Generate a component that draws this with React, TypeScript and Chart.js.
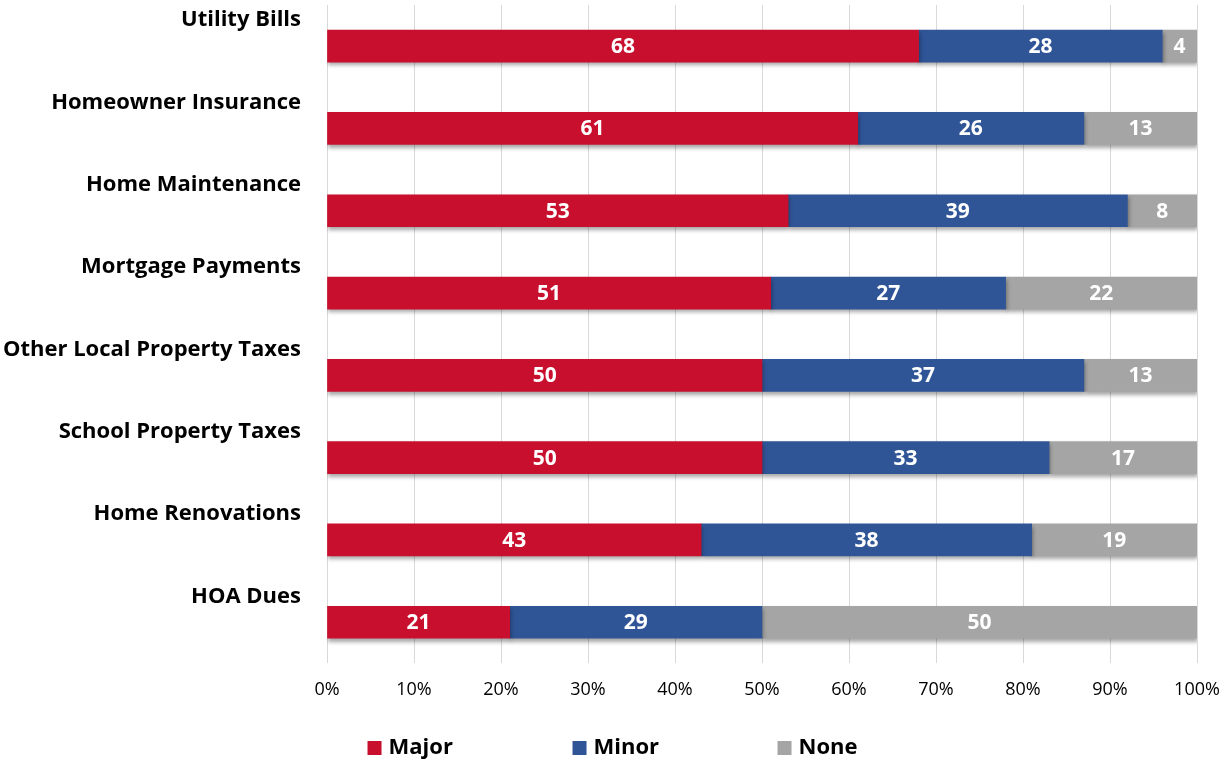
import React, { useEffect, useRef } from "react";
import { Chart, registerables } from "chart.js";

Chart.register(...registerables);

const categories = [
  "Utility Bills",
  "Homeowner Insurance",
  "Home Maintenance",
  "Mortgage Payments",
  "Other Local Property Taxes",
  "School Property Taxes",
  "Home Renovations",
  "HOA Dues",
];
const majorValues = [68, 61, 53, 51, 50, 50, 43, 21];
const minorValues = [28, 26, 39, 27, 37, 33, 38, 29];
const noneValues = [4, 13, 8, 22, 13, 17, 19, 50];
const seriesNames = ["Major", "Minor", "None"];
const seriesColors = ["#C8102E", "#2F5597", "#A5A5A5"];
const xTicks = [0, 10, 20, 30, 40, 50, 60, 70, 80, 90, 100];

const FONT = "'Open Sans', sans-serif";

const shadowPlugin = {
  id: "barShadow",
  beforeDatasetDraw(chart: any) {
    const ctx = chart.ctx;
    ctx.save();
    ctx.shadowColor = "rgba(0,0,0,0.35)";
    ctx.shadowBlur = 4;
    ctx.shadowOffsetX = 1;
    ctx.shadowOffsetY = 3;
  },
  afterDatasetDraw(chart: any) {
    chart.ctx.restore();
  },
};

const valueLabelPlugin = {
  id: "valueLabels",
  afterDatasetsDraw(chart: any) {
    const ctx = chart.ctx;
    ctx.save();
    ctx.fillStyle = "#ffffff";
    ctx.font = `bold 21px ${FONT}`;
    ctx.textAlign = "center";
    ctx.textBaseline = "middle";
    chart.data.datasets.forEach((ds: any, di: number) => {
      const meta = chart.getDatasetMeta(di);
      meta.data.forEach((bar: any, i: number) => {
        const v = ds.data[i];
        const cx = (bar.x + bar.base) / 2;
        ctx.fillText(String(v), cx, bar.y + 1);
      });
    });
    ctx.restore();
  },
};

const legendPlugin = {
  id: "customLegend",
  afterDraw(chart: any) {
    const ctx = chart.ctx;
    ctx.save();
    ctx.font = `bold 22px ${FONT}`;
    ctx.textBaseline = "middle";
    ctx.textAlign = "left";
    const step = 205;
    const box = 14;
    const gap = 7;
    const lastW = box + gap + ctx.measureText(seriesNames[seriesNames.length - 1]).width;
    const total = step * (seriesNames.length - 1) + lastW;
    let x = chart.width / 2 - total / 2;
    const y = 748;
    seriesNames.forEach((name, i) => {
      ctx.fillStyle = seriesColors[i];
      ctx.fillRect(x, y - box / 2, box, box);
      ctx.fillStyle = "#000";
      ctx.fillText(name, x + box + gap, y);
      x += step;
    });
    ctx.restore();
  },
};

export default function App() {
  const ref = useRef<HTMLCanvasElement | null>(null);
  useEffect(() => {
    document.body.style.margin = "0";
    const chart = new Chart(ref.current as HTMLCanvasElement, {
      type: "bar",
      data: {
        labels: categories,
        datasets: seriesNames.map((name, i) => ({
          label: name,
          data: [majorValues, minorValues, noneValues][i],
          backgroundColor: seriesColors[i],
        })),
      },
      options: {
        indexAxis: "y",
        animation: false,
        responsive: false,
        maintainAspectRatio: false,
        datasets: { bar: { barThickness: 32 } },
        layout: { padding: { top: 5, right: 28, bottom: 44, left: 0 } },
        scales: {
          x: {
            stacked: true,
            min: 0,
            max: 100,
            afterBuildTicks(scale: any) {
              scale.ticks = xTicks.map((v) => ({ value: v }));
            },
            afterFit(scale: any) {
              scale.paddingLeft = 0;
              scale.paddingRight = 0;
            },
            ticks: {
              callback: (v: any) => v + "%",
              color: "#000",
              font: { family: FONT, size: 18 },
              padding: 16,
              maxRotation: 0,
            },
            grid: { color: "#D9D9D9", lineWidth: 1, drawTicks: false },
            border: { display: false },
          },
          y: {
            stacked: true,
            afterFit(scale: any) {
              scale.width = 327;
              scale.paddingTop = 0;
              scale.paddingBottom = 0;
            },
            ticks: {
              color: "#000",
              font: { family: FONT, size: 22, weight: "bold" },
              padding: 26,
              labelOffset: -26,
            },
            grid: { display: false, drawTicks: false },
            border: { display: false },
          },
        },
        plugins: {
          legend: { display: false },
          tooltip: { enabled: false },
        },
      },
      plugins: [shadowPlugin, valueLabelPlugin, legendPlugin],
    } as any);
    return () => chart.destroy();
  }, []);
  return <canvas ref={ref} width={1225} height={761} style={{ display: "block" }} />;
}
